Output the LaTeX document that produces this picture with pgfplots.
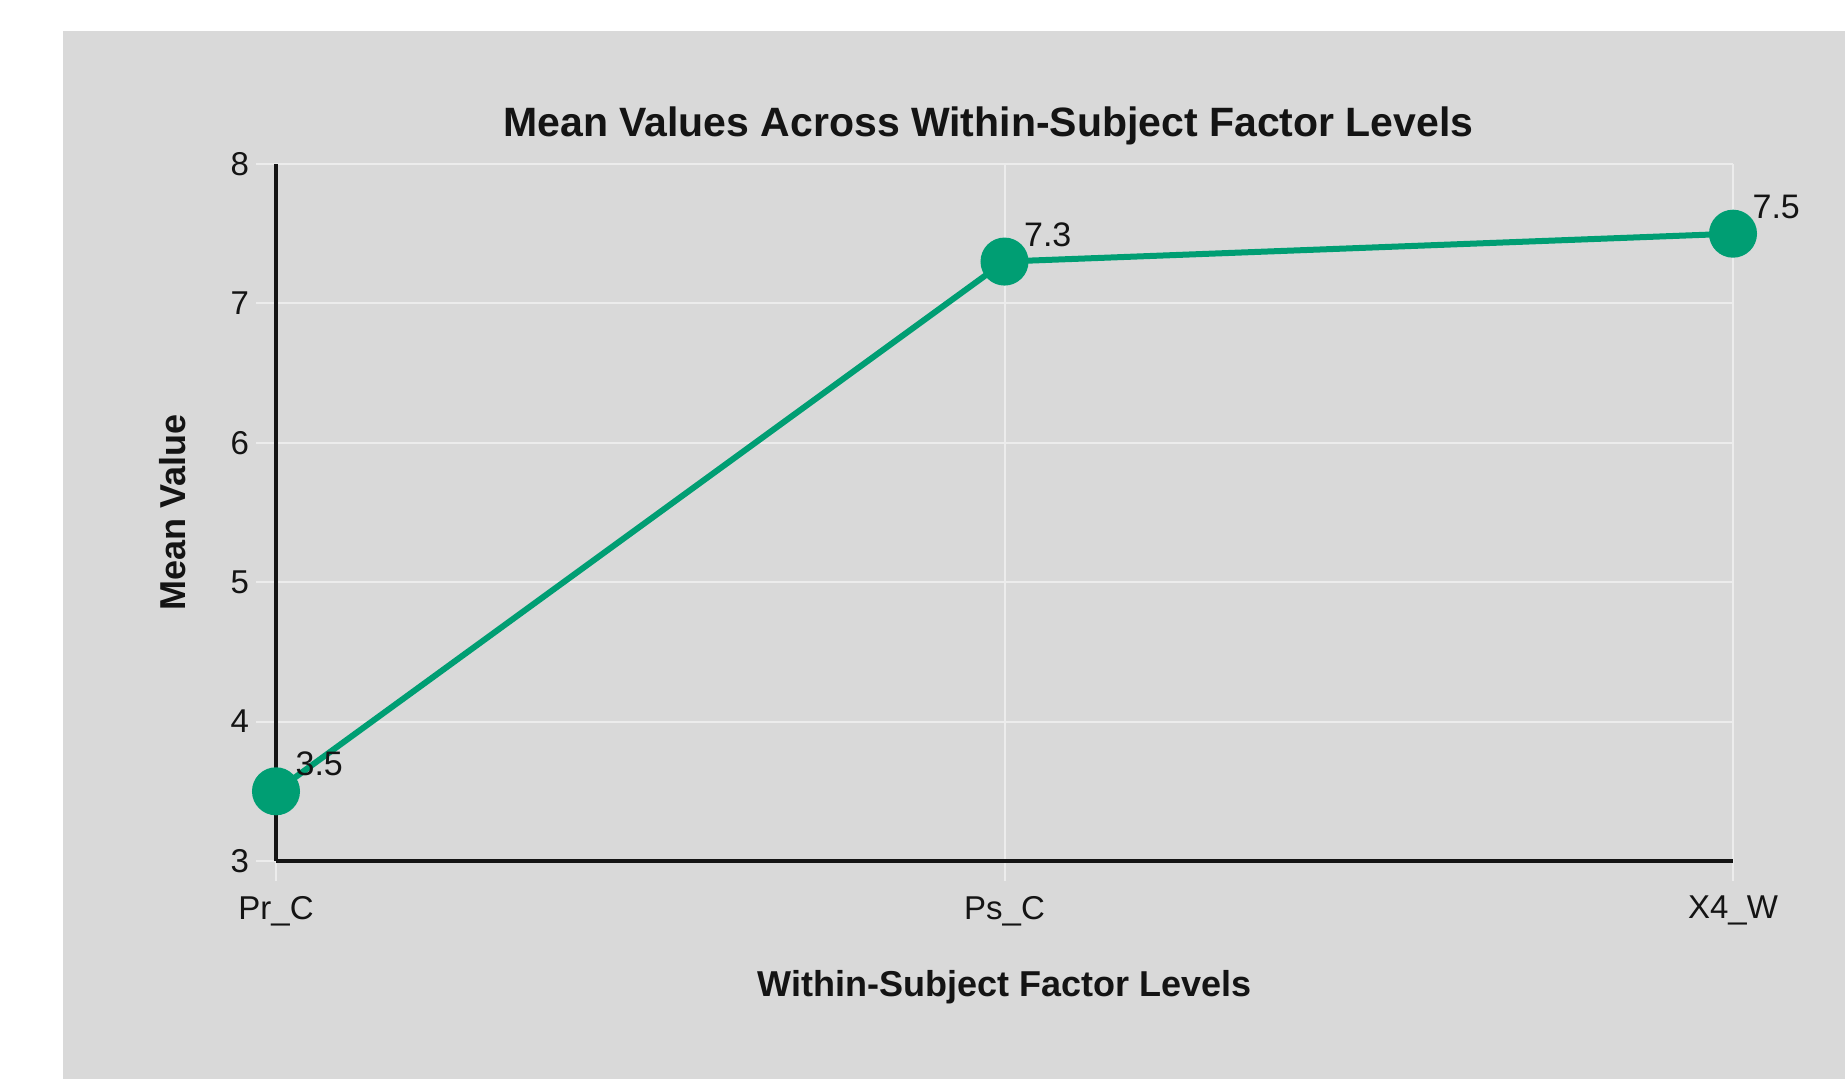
\documentclass[border=0pt]{standalone}
\usepackage{pgfplots}
\pgfplotsset{compat=1.18}
\usepackage{fontspec}
\setmainfont{Liberation Sans}
\definecolor{okgreen}{RGB}{0,158,115}
\definecolor{panel}{RGB}{217,217,217}
\definecolor{gridc}{RGB}{236,236,236}
\definecolor{txt}{RGB}{20,20,20}
\begin{document}
\begin{tikzpicture}
\useasboundingbox (0,0) rectangle (922.5pt,539.5pt);
\fill[white] (0,0) rectangle (922.5pt,539.5pt);
\fill[panel] (31.5pt,0) rectangle (922.5pt,524pt);
\begin{axis}[
  at={(138pt,109pt)}, anchor=south west,
  scale only axis, width=728.5pt, height=348.5pt,
  xmin=0, xmax=2, ymin=3, ymax=8,
  xtick=data, xticklabels={Pr\_C, Ps\_C, X4\_W},
  ytick={3,4,5,6,7,8},
  axis x line=bottom, axis y line=left,
  axis line style={-, color=txt, line width=1.6pt},
  grid=major, major grid style={color=gridc, line width=1pt},
  tick align=outside, major tick length=10pt,
  tick style={color=gridc, line width=1pt},
  /pgf/number format/assume math mode=true,
  tick label style={font=\fontsize{16.5}{19}\selectfont, color=txt},
  xticklabel style={yshift=-4pt},
  title={Mean Values Across Within-Subject Factor Levels},
  title style={at={(axis description cs:0.489,1.038)}, anchor=center, font=\fontsize{20.5}{24}\selectfont\bfseries, color=txt},
  xlabel={Within-Subject Factor Levels},
  xlabel style={at={(axis description cs:0.5,-0.1815)}, anchor=center, font=\fontsize{18}{21}\selectfont\bfseries, color=txt},
  ylabel={Mean Value},
  ylabel style={at={(axis description cs:-0.0707,0.5)}, anchor=center, font=\fontsize{18}{21}\selectfont\bfseries, color=txt},
  clip=false,
]
\addplot[color=okgreen, line width=3pt, mark=*, mark size=10.5pt,
  mark options={fill=okgreen, draw=none},
  nodes near coords,
  nodes near coords style={anchor=west, inner sep=0pt, xshift=8.3pt, yshift=13.5pt, font=\fontsize{17}{20}\selectfont, color=txt}]
  coordinates {(0,3.5) (1,7.3) (2,7.5)};
\end{axis}
\end{tikzpicture}
\end{document}
